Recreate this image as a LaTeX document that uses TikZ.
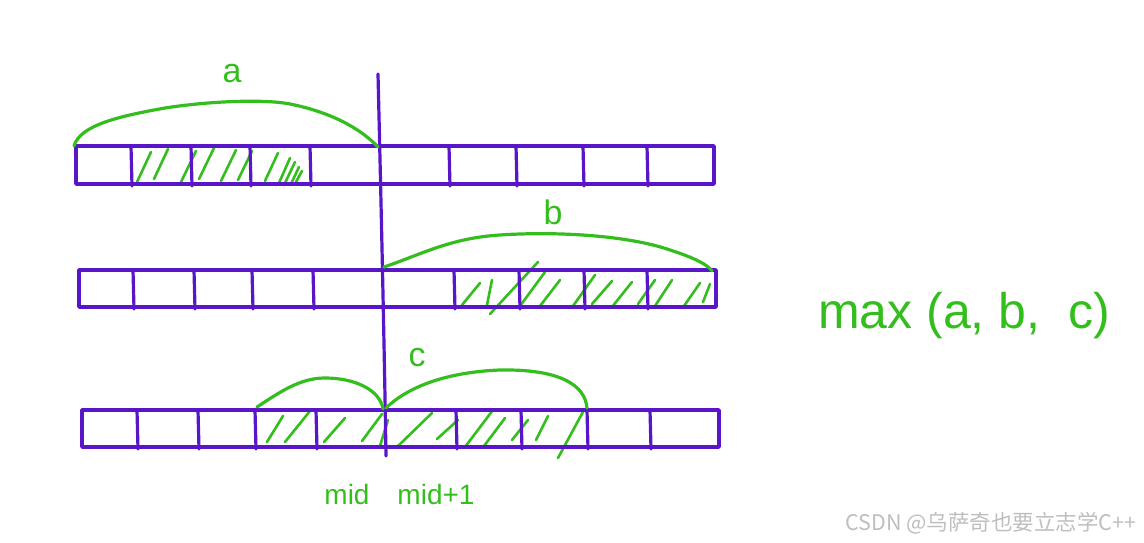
\documentclass[tikz,border=0pt]{standalone}
\usepackage{fontspec}
\setmainfont{Liberation Sans}
\newfontfamily\cjk{Noto Sans CJK SC}
\definecolor{pur}{RGB}{88,22,200}
\definecolor{grn}{RGB}{52,190,30}
\definecolor{wm}{RGB}{190,190,190}
\begin{document}
\begin{tikzpicture}[x=1pt,y=-1pt,
  bar/.style={draw=pur,line width=3.6pt,line join=round},
  divider/.style={draw=pur,line width=3.2pt,line cap=round},
  hatch/.style={draw=grn,line width=2.6pt,line cap=round},
  arc/.style={draw=grn,line width=3.2pt,line cap=round},
  lbl/.style={text=grn,font=\fontsize{34}{36}\selectfont,inner sep=0pt}]
\useasboundingbox (0,0) rectangle (1144,543);
% hatching row 1
\foreach \xa/\ya/\xb/\yb in {137/182/151/152, 154/179/168/149, 181/182/196/151, 199/179/214/148, 221/181/236/150, 238/180/252/151, 265/181/278/153, 279/183/290/158, 285/183/295/162, 291/184/299/167, 296/182/302/171}
  \draw[hatch] (\xa,\ya) -- (\xb,\yb);
% hatching row 2
\foreach \xa/\ya/\xb/\yb in {462/305/480/283, 487/305/492/280, 490/314/538/262, 520/306/545/272, 540/306/560/280, 573/306/595/275, 592/304/612/281, 612/307/632/282, 638/304/655/280, 655/306/672/280, 684/306/700/283, 703/302/710/284}
  \draw[hatch] (\xa,\ya) -- (\xb,\yb);
% hatching row 3
\foreach \xa/\ya/\xb/\yb in {267/442/283/416, 285/442/310/411, 324/442/345/418, 362/441/382/414, 380/446/388/420, 397/447/432/413, 437/439/458/420, 465/447/493/410, 484/446/505/418, 512/440/528/420, 536/440/548/416, 558/458/584/410}
  \draw[hatch] (\xa,\ya) -- (\xb,\yb);
% bars
\draw[bar] (76,146) rectangle (714,184);
\foreach \x in {131,191,250,310,449,516,583,647} \draw[divider] (\x,146) -- (\x+1,186);
\draw[bar] (79,270) rectangle (716,307);
\foreach \x in {133,194,252,313,454,519,584,647} \draw[divider] (\x,270) -- (\x+1,309);
\draw[bar] (82,410) rectangle (719,447);
\foreach \x in {137,198,255,316,456,521,587,650} \draw[divider] (\x,410) -- (\x+1,449);
% mid line
\coordinate (top) at (378,74);
\coordinate (bot) at (386,456);
\draw[divider] (top) .. controls (381,200) and (384,330) .. (bot);
% arcs
\draw[arc] (74,146) .. controls (80,125) and (120,116) .. (165,108) .. controls (210,101) and (265,99) .. (290,104) .. controls (330,112) and (360,128) .. (378,147);
\draw[arc] (384,267) .. controls (420,255) and (450,238) .. (500,235) .. controls (560,231) and (630,236) .. (670,250) .. controls (695,258) and (708,265) .. (712,271);
\draw[arc] (257,407) .. controls (280,392) and (300,378) .. (325,378) .. controls (355,378) and (380,390) .. (383,409);
\draw[arc] (386,408) .. controls (410,385) and (450,372) .. (500,370) .. controls (560,369) and (585,385) .. (587,408);
% labels
\node[lbl] (a) at (232,74) {a};
\node[lbl] (b) at (553,212) {b};
\node[lbl] (c) at (417,358) {c};
\node[lbl,font=\fontsize{28}{30}\selectfont] (mid) at (347,494) {mid};
\node[lbl,font=\fontsize{28}{30}\selectfont] (mid1) at (436,494) {mid+1};
\node[lbl,font=\fontsize{50}{52}\selectfont] (max) at (964,316) {max (a, b,\ \ c)};
\node[text=wm,font=\cjk\fontsize{21.5}{23}\selectfont,inner sep=0pt] (wmk) at (991,523) {CSDN @乌萨奇也要立志学C++};
\end{tikzpicture}
\end{document}
